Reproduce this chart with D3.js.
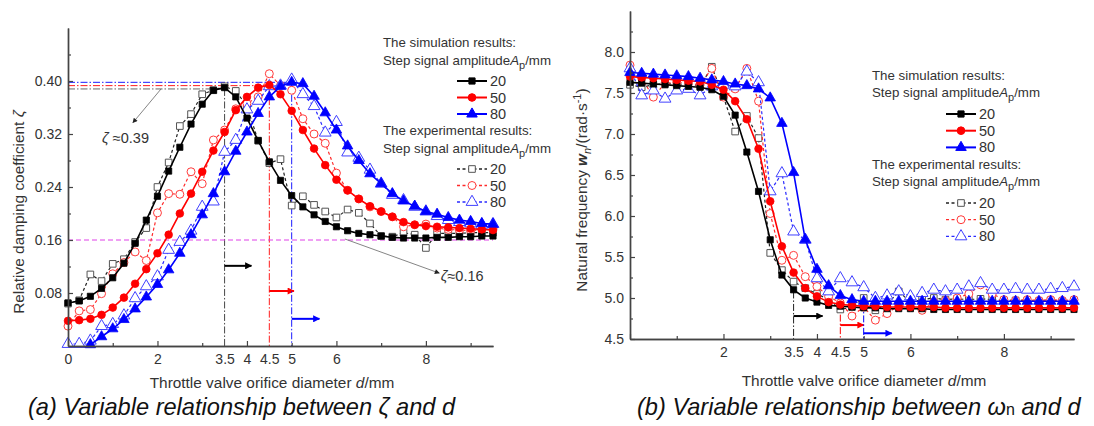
<!DOCTYPE html>
<html>
<head>
<meta charset="utf-8">
<script src="https://cdn.jsdelivr.net/npm/d3@7"></script>
<style>
  body { margin: 0; background: #fff; }
  svg text { font-family: "Liberation Sans", Arial, sans-serif; }
</style>
</head>
<body>
<svg id="chart" width="1094" height="426"></svg>
<script>
// Throttle valve orifice diameter d (mm)
const diameters = [0,0.25,0.5,0.75,1,1.25,1.5,1.75,2,2.25,2.5,2.75,3,3.25,3.5,3.75,4,4.25,4.5,4.75,5,5.25,5.5,5.75,6,6.25,6.5,6.75,7,7.25,7.5,7.75,8,8.25,8.5,8.75,9,9.25,9.5];

// Relative damping coefficient zeta — simulation / experiment, Ap = 20, 50, 80 mm
const zetaSim20 = [0.065,0.068,0.075,0.087,0.103,0.125,0.155,0.190,0.226,0.264,0.300,0.335,0.365,0.386,0.390,0.376,0.344,0.310,0.278,0.250,0.227,0.210,0.198,0.188,0.180,0.174,0.170,0.168,0.166,0.164,0.163,0.163,0.163,0.164,0.164,0.165,0.165,0.166,0.166];
const zetaSim50 = [0.038,0.039,0.041,0.047,0.058,0.073,0.094,0.116,0.140,0.168,0.200,0.230,0.263,0.295,0.323,0.356,0.376,0.390,0.394,0.380,0.355,0.326,0.298,0.273,0.251,0.235,0.222,0.211,0.203,0.195,0.187,0.183,0.181,0.180,0.179,0.178,0.177,0.176,0.175];
const zetaSim80 = [null,null,0.002,0.014,0.026,0.040,0.056,0.074,0.093,0.115,0.140,0.168,0.198,0.230,0.263,0.294,0.323,0.351,0.376,0.392,0.398,0.396,0.377,0.352,0.326,0.302,0.280,0.260,0.245,0.230,0.219,0.211,0.203,0.199,0.194,0.190,0.188,0.185,0.184];
const zetaExp20 = [0.064,0.069,0.108,0.098,0.124,0.131,0.157,0.178,0.240,0.277,0.332,0.350,0.380,0.386,0.392,0.385,0.362,0.310,0.276,0.282,0.212,0.226,0.213,0.203,0.194,0.206,0.201,0.185,0.166,0.165,0.171,0.168,0.148,0.170,0.170,0.170,0.171,0.171,0.171];
const zetaExp50 = [0.030,0.053,0.055,0.079,0.109,0.126,0.142,0.129,0.201,0.230,0.229,0.263,0.245,0.311,0.326,0.358,0.366,0.376,0.411,0.393,0.386,0.343,0.320,0.306,0.261,0.235,0.222,0.210,0.203,0.195,0.180,0.183,0.184,0.178,0.176,0.175,0.174,0.176,0.177];
const zetaExp80 = [0.003,0.003,0.008,0.030,0.033,0.046,0.072,0.090,0.105,0.145,0.157,0.174,0.210,0.218,0.293,0.311,0.357,0.370,0.392,0.393,0.402,0.380,0.362,0.322,0.338,0.292,0.284,0.266,0.245,0.228,0.220,0.210,0.203,0.196,0.190,0.187,0.185,0.183,0.184];

// Natural frequency wn (rad/s) — simulation / experiment
const omegaSim20 = [7.63,7.62,7.61,7.60,7.59,7.58,7.57,7.54,7.46,7.23,6.78,6.30,5.71,5.28,5.10,5.00,4.95,4.91,4.90,4.89,4.88,4.88,4.87,4.87,4.87,4.87,4.86,4.86,4.86,4.86,4.86,4.86,4.86,4.86,4.86,4.86,4.86,4.86,4.86];
const omegaSim50 = [7.70,7.69,7.68,7.67,7.66,7.65,7.64,7.60,7.54,7.40,7.18,6.82,6.18,5.63,5.31,5.12,5.02,4.95,4.92,4.91,4.90,4.90,4.89,4.89,4.89,4.89,4.89,4.88,4.88,4.88,4.88,4.88,4.88,4.88,4.88,4.88,4.88,4.88,4.88];
const omegaSim80 = [7.75,7.74,7.73,7.72,7.71,7.70,7.68,7.66,7.64,7.61,7.59,7.55,7.44,7.13,6.53,5.71,5.35,5.15,5.03,4.98,4.96,4.96,4.96,4.96,4.96,4.96,4.96,4.96,4.96,4.96,4.96,4.96,4.96,4.96,4.96,4.96,4.96,4.96,4.96];
const omegaExp20 = [7.60,7.57,7.60,7.62,7.60,7.62,7.58,7.82,7.45,7.03,7.22,6.95,5.55,5.34,5.20,5.12,5.05,4.98,4.86,4.89,5.00,4.85,4.92,5.08,4.95,4.98,5.00,4.98,4.99,4.98,4.99,4.98,4.97,4.97,4.97,4.96,4.97,4.96,4.97];
const omegaExp50 = [7.84,7.68,7.45,7.62,7.63,7.62,7.60,7.80,7.45,7.55,7.80,7.40,6.03,5.46,5.52,5.26,5.14,5.02,4.94,4.78,4.89,4.73,4.81,4.91,4.89,4.85,4.95,4.97,5.00,5.05,5.16,5.05,4.98,4.97,4.98,4.97,4.98,4.97,4.98];
const omegaExp80 = [7.80,7.47,7.53,7.43,7.53,7.55,7.47,7.58,7.60,7.58,7.76,7.63,6.30,6.52,5.81,5.71,5.24,5.08,5.24,5.19,5.13,5.00,5.03,5.08,5.02,5.06,5.10,5.08,5.10,5.14,5.18,5.10,5.10,5.11,5.10,5.10,5.11,5.12,5.14];

// Axis ticks
const zetaTicks = [0.08,0.16,0.24,0.32,0.40];
const zetaMinorTicks = [0.04,0.12,0.20,0.28,0.36,0.44];
const omegaTicks = [4.5,5.0,5.5,6.0,6.5,7.0,7.5,8.0];
const omegaMinorTicks = [4.75,5.25,5.75,6.25,6.75,7.25,7.75,8.25];
const dMajorTicks = [0,2,4,6,8];
const dMinorTicks = [1,3,5,7,9];
const dLabelsLeft = [0,2,3.5,4,4.5,5,6,8];
const dLabelsRight = [2,3.5,4,4.5,5,6,8];

// Amplitudes and the critical diameters marked on the plots
const amplitudes = ["20","50","80"];
const criticalD = [3.5, 4.5, 5.0];
const zetaPeaks = [0.388, 0.393, 0.398];
const zetaArrowLevels = [0.121, 0.083, 0.041];
const zetaArrowEnds = [4.1, 5.05, 5.62];
const omegaDropStarts = [5.08, 4.95, 4.94];
const omegaArrowLevels = [4.78, 4.67, 4.57];
const omegaArrowEnds = [4.12, 5.0, 5.6];
const zetaSteady = 0.16;

const colors = ["#000000", "#ff0000", "#0000ff"];
const expStroke = ["#222222", "#ff2a2a", "#2a2aff"];
const expMarkerStroke = ["#555555", "#ff3b3b", "#4040ff"];
const symbols = [d3.symbolSquare, d3.symbolCircle, d3.symbolTriangle];
const simSizes = [38, 46, 48];
const expSizes = [44, 50, 60];

const svg = d3.select("#chart");
const axisColor = "#444";
const textColor = "#333";
const titleSize = 15.4;

// arrowhead markers
const defs = svg.append("defs");
colors.forEach((c, i) => {
  defs.append("marker")
    .attr("id", "arrow" + i)
    .attr("viewBox", "0 0 10 10")
    .attr("refX", 9).attr("refY", 5)
    .attr("markerWidth", 9).attr("markerHeight", 7)
    .attr("markerUnits", "userSpaceOnUse")
    .attr("orient", "auto")
    .append("path").attr("d", "M0,0L10,5L0,10Z").attr("fill", c);
});
defs.append("marker")
  .attr("id", "arrowGrey")
  .attr("viewBox", "0 0 10 10")
  .attr("refX", 9).attr("refY", 5)
  .attr("markerWidth", 7).attr("markerHeight", 5)
  .attr("markerUnits", "userSpaceOnUse")
  .attr("orient", "auto")
  .append("path").attr("d", "M0,0L10,5L0,10Z").attr("fill", "#222");

function styleAxis(g) {
  g.selectAll("path.domain").attr("stroke", axisColor).attr("stroke-width", 1.4);
  g.selectAll(".tick line").attr("stroke", axisColor).attr("stroke-width", 1.2);
  g.selectAll(".tick text").attr("fill", textColor).attr("font-size", 14)
    .attr("font-family", "'Liberation Sans', Arial, sans-serif");
}

function drawAxes(x, y, yMajor, yMinor, yFmt, xLabels) {
  const x0 = x.range()[0], y0 = y.range()[0];
  // y axis
  svg.append("g").attr("transform", `translate(${x0},0)`)
    .call(d3.axisLeft(y).tickValues(yMinor).tickSize(-3).tickSizeOuter(0).tickFormat(""))
    .call(styleAxis);
  svg.append("g").attr("transform", `translate(${x0},0)`)
    .call(d3.axisLeft(y).tickValues(yMajor).tickSize(-5).tickSizeOuter(0).tickPadding(6).tickFormat(yFmt))
    .call(styleAxis);
  // x axis
  svg.append("g").attr("transform", `translate(0,${y0})`)
    .call(d3.axisBottom(x).tickValues(dMinorTicks).tickSize(-3).tickSizeOuter(0).tickFormat(""))
    .call(styleAxis);
  svg.append("g").attr("transform", `translate(0,${y0})`)
    .call(d3.axisBottom(x).tickValues(dMajorTicks).tickSize(-5).tickSizeOuter(0).tickFormat(""))
    .call(styleAxis);
  svg.append("g").attr("transform", `translate(0,${y0})`)
    .call(d3.axisBottom(x).tickValues(xLabels).tickSize(0).tickPadding(8).tickFormat(d3.format("~g")))
    .call(g => g.select("path.domain").remove())
    .call(styleAxis);
}

function drawSeries(x, y, values, i, kind) {
  const pts = diameters.map((d, k) => ({ d, v: values[k] })).filter(p => p.v !== null);
  const line = d3.line().x(p => x(p.d)).y(p => y(p.v));
  const g = svg.append("g");
  g.append("path")
    .attr("d", line(pts))
    .attr("fill", "none")
    .attr("stroke", kind === "sim" ? colors[i] : expStroke[i])
    .attr("stroke-width", kind === "sim" ? 1.6 : 1.2)
    .attr("stroke-dasharray", kind === "sim" ? null : "3,2.5");
  const sym = d3.symbol().type(symbols[i]).size(kind === "sim" ? simSizes[i] : expSizes[i]);
  g.selectAll("path.pt").data(pts).join("path")
    .attr("class", "pt")
    .attr("d", sym)
    .attr("transform", p => `translate(${x(p.d)},${y(p.v)})`)
    .attr("fill", kind === "sim" ? colors[i] : "#fff")
    .attr("stroke", kind === "sim" ? colors[i] : expMarkerStroke[i])
    .attr("stroke-width", kind === "sim" ? 0.8 : 1);
}

function drawLegend(x0, yTop, gap) {
  const g = svg.append("g").attr("font-size", 13.3).attr("fill", textColor);
  const lineX1 = x0 + 74, lineX2 = x0 + 104, labelX = x0 + 107;
  const header = (yy, title) => {
    g.append("text").attr("x", x0).attr("y", yy).text(title);
    const t = g.append("text").attr("x", x0).attr("y", yy + gap.sub);
    t.append("tspan").text("Step signal amplitude");
    t.append("tspan").attr("font-style", "italic").text("A");
    t.append("tspan").attr("font-size", 11).attr("dy", 4).text("p");
    t.append("tspan").attr("dy", -4).text("/mm");
  };
  const entry = (yy, i, kind) => {
    g.append("line").attr("x1", lineX1).attr("x2", lineX2).attr("y1", yy).attr("y2", yy)
      .attr("stroke", kind === "sim" ? colors[i] : expStroke[i])
      .attr("stroke-width", kind === "sim" ? 2 : 1.3)
      .attr("stroke-dasharray", kind === "sim" ? null : "3,2.5");
    g.append("path")
      .attr("d", d3.symbol().type(symbols[i]).size(kind === "sim" ? simSizes[i] : expSizes[i])())
      .attr("transform", `translate(${(lineX1 + lineX2) / 2},${yy})`)
      .attr("fill", kind === "sim" ? colors[i] : "#fff")
      .attr("stroke", kind === "sim" ? colors[i] : expMarkerStroke[i]);
    g.append("text").attr("x", labelX).attr("y", yy + 5).attr("font-size", 14.5).text(amplitudes[i]);
  };
  header(yTop, "The simulation results:");
  amplitudes.forEach((a, i) => entry(yTop + gap.first + i * gap.row, i, "sim"));
  const y2 = yTop + gap.block;
  header(y2, "The experimental results:");
  amplitudes.forEach((a, i) => entry(y2 + gap.first + i * gap.row, i, "exp"));
}

// ---------------- (a) zeta vs d ----------------
const xL = d3.scaleLinear().domain([0, 9.5]).range([68, 493]);
const yL = d3.scaleLinear().domain([0, 0.48]).range([346, 28]);

// reference lines at the peaks and critical diameters
const dashDot = "7,2,1.5,2";
criticalD.forEach((dc, i) => {
  svg.append("line").attr("x1", xL(0)).attr("x2", xL(dc)).attr("y1", yL(zetaPeaks[i])).attr("y2", yL(zetaPeaks[i]))
    .attr("stroke", i === 0 ? "#555" : colors[i]).attr("stroke-width", 0.9).attr("stroke-dasharray", dashDot);
  svg.append("line").attr("x1", xL(dc)).attr("x2", xL(dc)).attr("y1", yL(zetaPeaks[i])).attr("y2", yL(0))
    .attr("stroke", i === 0 ? "#333" : colors[i]).attr("stroke-width", 0.9).attr("stroke-dasharray", dashDot);
  svg.append("line").attr("x1", xL(dc)).attr("x2", xL(zetaArrowEnds[i]))
    .attr("y1", yL(zetaArrowLevels[i])).attr("y2", yL(zetaArrowLevels[i]))
    .attr("stroke", colors[i]).attr("stroke-width", 2).attr("marker-end", `url(#arrow${i})`);
});
svg.append("line").attr("x1", xL(0)).attr("x2", xL(9.5)).attr("y1", yL(zetaSteady)).attr("y2", yL(zetaSteady))
  .attr("stroke", "#e040e8").attr("stroke-width", 1).attr("stroke-dasharray", "5,3");

[zetaExp20, zetaExp50, zetaExp80].forEach((v, i) => drawSeries(xL, yL, v, i, "exp"));
[zetaSim20, zetaSim50, zetaSim80].forEach((v, i) => drawSeries(xL, yL, v, i, "sim"));

drawAxes(xL, yL, zetaTicks, zetaMinorTicks, d3.format(".2f"), dLabelsLeft);

// annotations
svg.append("line").attr("x1", xL(2.08)).attr("y1", yL(0.388)).attr("x2", xL(1.45)).attr("y2", yL(0.337))
  .attr("stroke", "#666").attr("stroke-width", 0.8).attr("marker-end", "url(#arrowGrey)");
const t39 = svg.append("text").attr("x", xL(0.76)).attr("y", yL(0.306)).attr("font-size", 14.5).attr("fill", textColor);
t39.append("tspan").attr("font-style", "italic").text("ζ");
t39.append("tspan").text(" ≈0.39");
svg.append("line").attr("x1", xL(6.19)).attr("y1", yL(0.1615)).attr("x2", xL(8.3)).attr("y2", yL(0.11))
  .attr("stroke", "#666").attr("stroke-width", 0.8).attr("marker-end", "url(#arrowGrey)");
const t16 = svg.append("text").attr("x", xL(8.33)).attr("y", yL(0.098)).attr("font-size", 14.5).attr("fill", textColor);
t16.append("tspan").attr("font-style", "italic").text("ζ");
t16.append("tspan").text("≈0.16");

// axis titles
const xtL = svg.append("text").attr("x", 272).attr("y", 388).attr("text-anchor", "middle")
  .attr("font-size", titleSize).attr("fill", textColor);
xtL.append("tspan").text("Throttle valve orifice diameter ");
xtL.append("tspan").attr("font-style", "italic").text("d");
xtL.append("tspan").text("/mm");
const ytL = svg.append("text").attr("transform", "translate(24,212) rotate(-90)").attr("text-anchor", "middle")
  .attr("font-size", titleSize).attr("fill", textColor);
ytL.append("tspan").text("Relative damping coefficient ");
ytL.append("tspan").attr("font-style", "italic").text("ζ");

drawLegend(383, 47, { sub: 18, first: 34, row: 16.5, block: 88 });

// ---------------- (b) wn vs d ----------------
const xR = d3.scaleLinear().domain([0, 9.5]).range([630, 1074]);
const yR = d3.scaleLinear().domain([4.5, 8.5]).range([339, 11]);

criticalD.forEach((dc, i) => {
  svg.append("line").attr("x1", xR(dc)).attr("x2", xR(dc)).attr("y1", yR(omegaDropStarts[i])).attr("y2", yR(4.5))
    .attr("stroke", i === 0 ? "#222" : colors[i]).attr("stroke-width", 1).attr("stroke-dasharray", dashDot);
  svg.append("line").attr("x1", xR(dc)).attr("x2", xR(omegaArrowEnds[i]))
    .attr("y1", yR(omegaArrowLevels[i])).attr("y2", yR(omegaArrowLevels[i]))
    .attr("stroke", colors[i]).attr("stroke-width", 2).attr("marker-end", `url(#arrow${i})`);
});

[omegaExp20, omegaExp50, omegaExp80].forEach((v, i) => drawSeries(xR, yR, v, i, "exp"));
[omegaSim20, omegaSim50, omegaSim80].forEach((v, i) => drawSeries(xR, yR, v, i, "sim"));

drawAxes(xR, yR, omegaTicks, omegaMinorTicks, d3.format(".1f"), dLabelsRight);

const xtR = svg.append("text").attr("x", 864).attr("y", 386).attr("text-anchor", "middle")
  .attr("font-size", titleSize).attr("fill", textColor);
xtR.append("tspan").text("Throttle valve orifice diameter ");
xtR.append("tspan").attr("font-style", "italic").text("d");
xtR.append("tspan").text("/mm");
const ytR = svg.append("text").attr("transform", "translate(587,190) rotate(-90)").attr("text-anchor", "middle")
  .attr("font-size", titleSize).attr("fill", textColor);
ytR.append("tspan").text("Natural frequency ");
ytR.append("tspan").attr("font-style", "italic").attr("font-weight", "bold").text("w");
ytR.append("tspan").attr("font-size", 11).attr("dy", 4).attr("font-style", "italic").text("n");
ytR.append("tspan").attr("dy", -4).text("/(rad·s");
ytR.append("tspan").attr("font-size", 11).attr("dy", -6).text("-1");
ytR.append("tspan").attr("dy", 6).text(")");

drawLegend(872, 80, { sub: 17, first: 34, row: 16.7, block: 89 });

// ---------------- captions ----------------
svg.append("text").attr("x", 28).attr("y", 415).attr("font-size", 23.6).attr("font-style", "italic")
  .attr("fill", "#111").text("(a) Variable relationship between ζ and d");
const capB = svg.append("text").attr("x", 637).attr("y", 415).attr("font-size", 23.6).attr("font-style", "italic")
  .attr("fill", "#111");
capB.append("tspan").text("(b) Variable relationship between ω");
capB.append("tspan").attr("font-size", 16).attr("font-style", "normal").text("n");
capB.append("tspan").text(" and d");
</script>
</body>
</html>
